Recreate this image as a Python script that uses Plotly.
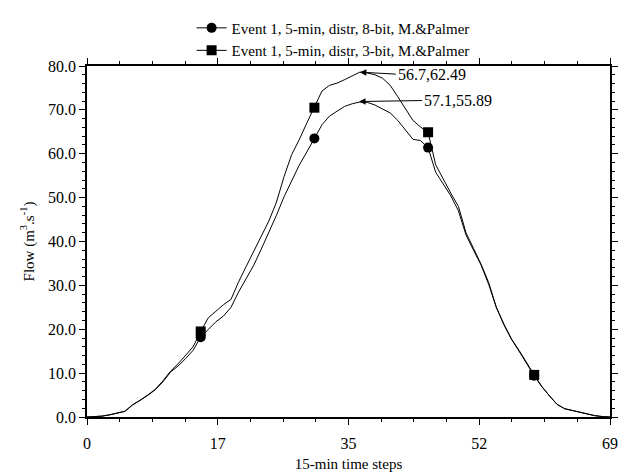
import plotly.graph_objects as go

# 15-min time steps
steps = list(range(70))

# Event 1, 5-min, distr, 8-bit, M.&Palmer
flow_8bit = [
    0.0, 0.05, 0.2, 0.5, 0.9, 1.3, 2.7, 3.8, 4.9, 6.2,
    8.0, 10.2, 11.6, 13.3, 15.2, 18.2, 20.0, 21.7, 23.0, 25.0,
    28.5, 31.5, 34.6, 38.3, 42.0, 46.0, 50.2, 54.0, 57.4, 60.4,
    63.5, 66.6, 68.6, 69.8, 70.8, 71.4, 71.8, 71.7, 71.1, 70.2,
    69.3, 67.6, 65.4, 63.3, 63.0, 61.4, 55.8, 53.2, 50.4, 47.0,
    41.5, 38.0, 34.6, 30.2, 25.0, 21.0, 17.7, 15.0, 12.1, 9.4,
    6.9, 4.8, 2.9, 1.9, 1.5, 1.1, 0.7, 0.3, 0.1, 0.0,
]

# Event 1, 5-min, distr, 3-bit, M.&Palmer
flow_3bit = [
    0.0, 0.05, 0.2, 0.5, 0.9, 1.3, 2.8, 3.8, 5.0, 6.3,
    8.2, 10.4, 12.1, 14.0, 16.0, 19.5, 22.6, 24.1, 25.6, 26.8,
    30.8, 34.3, 37.8, 41.3, 44.7, 49.0, 54.8, 59.8, 63.2, 67.0,
    70.5, 74.3, 75.6, 76.1, 76.9, 77.8, 78.6, 78.4, 78.0, 77.2,
    75.6, 73.0, 70.3, 67.6, 66.1, 64.9, 57.5, 54.2, 51.0, 48.0,
    42.0, 38.4, 34.8, 30.6, 25.0, 21.2, 17.8, 15.2, 12.3, 9.6,
    7.0, 4.8, 2.9, 1.9, 1.5, 1.1, 0.7, 0.3, 0.1, 0.0,
]

# time steps that carry a symbol
marker_steps = [15, 30, 45, 59]

legend_names = [
    "Event 1, 5-min, distr, 8-bit, M.&Palmer",
    "Event 1, 5-min, distr, 3-bit, M.&Palmer",
]

# x ticks: range split in quarters, labels rounded
x_tick_vals = [0, 17.25, 34.5, 51.75, 69]
x_tick_text = ["0", "17", "35", "52", "69"]

# peak call-outs: (text, x, y, tail offset x, tail offset y)
peak_notes = [
    ("56.7,62.49", 36.0, 78.6, 36, 2),
    ("57.1,55.89", 35.9, 71.9, 63, -1),
]

FONT = "Liberation Serif, Times New Roman, serif"


def serif(size):
    return dict(family=FONT, size=size, color="black")


fig = go.Figure()

series = [
    (flow_8bit, "circle", legend_names[0]),
    (flow_3bit, "square", legend_names[1]),
]

for values, symbol, name in series:
    fig.add_trace(go.Scatter(
        x=steps, y=values, mode="lines",
        line=dict(color="black", width=1),
        showlegend=False, hoverinfo="skip",
    ))
    fig.add_trace(go.Scatter(
        x=marker_steps, y=[values[i] for i in marker_steps], mode="markers",
        marker=dict(symbol=symbol, size=10, color="black"),
        showlegend=False,
    ))
    # legend entry (line with symbol)
    fig.add_trace(go.Scatter(
        x=[None], y=[None], mode="lines+markers", name=name,
        line=dict(color="black", width=1),
        marker=dict(symbol=symbol, size=10, color="black"),
    ))

for text, px, py, tx, ty in peak_notes:
    fig.add_annotation(
        x=px, y=py, text=text,
        showarrow=True, arrowhead=2, arrowsize=1.3, arrowwidth=1, arrowcolor="black",
        ax=tx, ay=ty, xanchor="left", yanchor="middle",
        font=serif(16),
    )

fig.update_layout(
    width=628, height=473,
    margin=dict(l=87, r=18, t=57, b=56),
    paper_bgcolor="white", plot_bgcolor="white",
    font=serif(15),
    legend=dict(
        x=0.2, y=1.155, xanchor="left", yanchor="top",
        bgcolor="rgba(0,0,0,0)", font=serif(15),
        itemwidth=30, tracegroupgap=0,
    ),
    xaxis=dict(
        range=[0, 69], tickmode="array", tickvals=x_tick_vals, ticktext=x_tick_text,
        showgrid=False, zeroline=False, showline=True, linecolor="black", linewidth=1.5,
        mirror="ticks", ticks="outside", ticklen=6, tickwidth=1.2, tickcolor="black",
        ticklabelstandoff=5, automargin=False,
        minor=dict(tickmode="array", tickvals=[i * 4.3125 for i in range(17)],
                   ticks="outside", ticklen=3, tickcolor="black"),
        title=dict(text="15-min time steps", standoff=8, font=serif(15)),
        tickfont=serif(16),
    ),
    yaxis=dict(
        range=[0, 80], dtick=10, tickformat=".1f",
        showgrid=False, zeroline=False, showline=True, linecolor="black", linewidth=1.5,
        mirror="ticks", ticks="outside", ticklen=6, tickwidth=1.2, tickcolor="black",
        automargin=False,
        minor=dict(dtick=2, ticks="outside", ticklen=3, tickcolor="black"),
        title=dict(text="Flow (m<sup>3</sup>.s<sup>-1</sup>)", standoff=10, font=serif(15)),
        tickfont=serif(16),
    ),
)

fig.write_html("out.html")
